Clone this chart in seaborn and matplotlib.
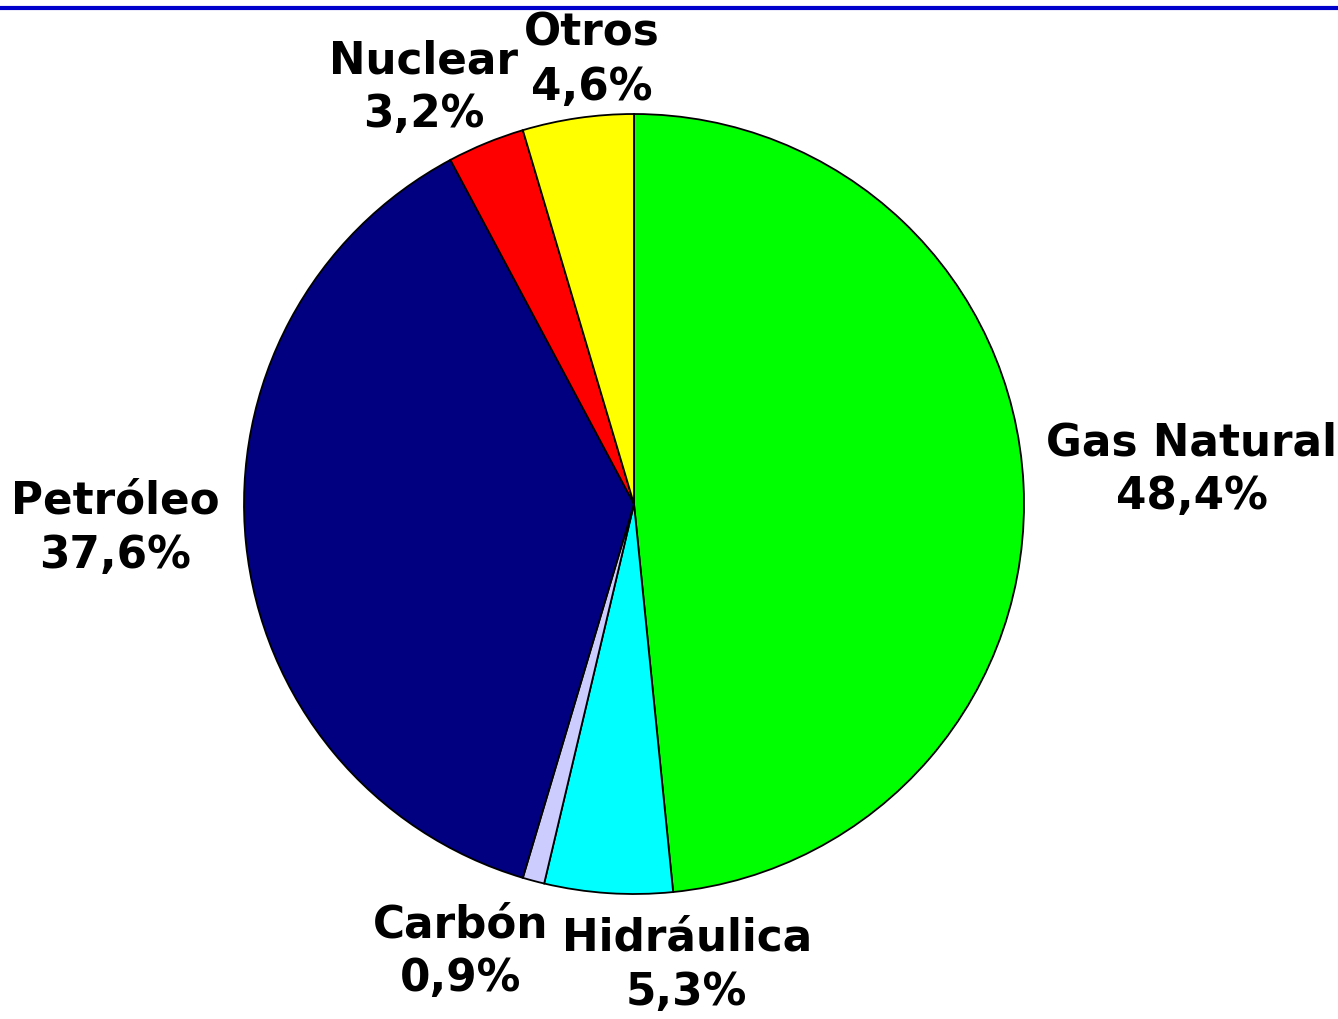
import matplotlib
matplotlib.use("Agg")
import matplotlib.pyplot as plt
import seaborn as sns

fuentes = ["Gas Natural", "Hidráulica", "Carbón", "Petróleo", "Nuclear", "Otros"]
porcentajes = [48.4, 5.3, 0.9, 37.6, 3.2, 4.6]
colores = ["#00FF00", "#00FFFF", "#CCCCFF", "#000080", "#FF0000", "#FFFF00"]

# label positions (pie radius units)
pos_etiquetas = [(1.43, 0.09), (0.135, -1.18), (-0.445, -1.145),
                 (-1.33, -0.06), (-0.54, 1.07), (-0.108, 1.14)]

sns.set_style("white")
plt.rcParams["font.family"] = ["DejaVu Sans"]

fig = plt.figure(figsize=(13.38, 10.2), dpi=100)
cx, cy, r = 634, 505, 390
ax = fig.add_axes([(cx - r) / 1338, (1020 - cy - r) / 1020, 2 * r / 1338, 2 * r / 1020])

etiquetas = [f"{n}\n{str(v).replace('.', ',')}%" for n, v in zip(fuentes, porcentajes)]
wedges, textos = ax.pie(porcentajes, colors=colores, startangle=90, counterclock=False,
                        labels=etiquetas, radius=1,
                        wedgeprops=dict(edgecolor="black", linewidth=1.3),
                        textprops=dict(fontsize=31.5, fontweight="bold", color="black",
                                       linespacing=1.32))
for t, (x, y) in zip(textos, pos_etiquetas):
    t.set_position((x, y))
    t.set_ha("center")
    t.set_va("center")
    t.set_clip_on(False)
ax.set_xlim(-1, 1)
ax.set_ylim(-1, 1)
ax.set_aspect("equal")
ax.axis("off")

fig.add_artist(plt.Line2D([0, 1], [1 - 8.5 / 1020, 1 - 8.5 / 1020], color="#0000CC",
                          linewidth=3, transform=fig.transFigure))

fig.savefig("out.png", dpi=100)
